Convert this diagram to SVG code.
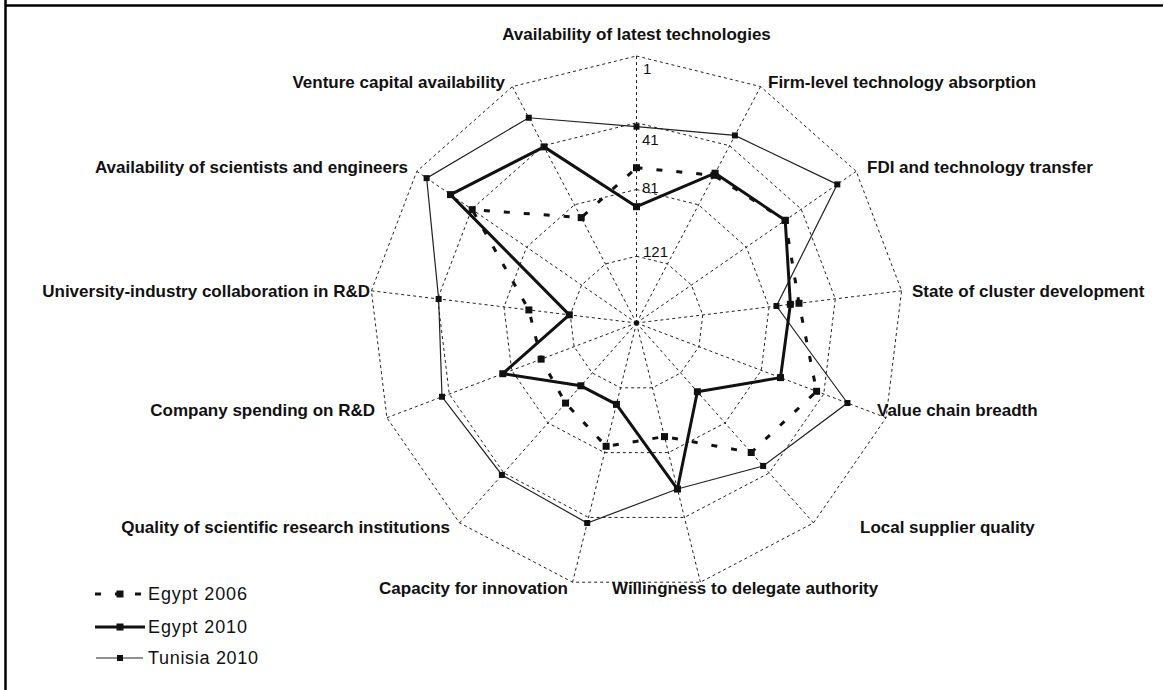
<svg xmlns="http://www.w3.org/2000/svg" width="1164" height="690" viewBox="0 0 1164 690">
<style>
.grid{fill:none;stroke:#222;stroke-width:1;stroke-dasharray:3 3}
.lbl{font-family:"Liberation Sans",Arial,sans-serif;font-weight:bold;font-size:17px;fill:#111}
.num{font-family:"Liberation Sans",Arial,sans-serif;font-size:15px;fill:#111}
.leg{font-family:"Liberation Sans",Arial,sans-serif;font-size:18px;fill:#111}
.e06{fill:none;stroke:#111;stroke-width:3;stroke-dasharray:6 14}
.e10{fill:none;stroke:#111;stroke-width:3;stroke-linejoin:round}
.tun{fill:none;stroke:#222;stroke-width:1.2}
</style>
<defs>
<rect id="mk" x="-3.5" y="-3.5" width="7" height="7" fill="#111"/>
<rect id="mks" x="-3" y="-3" width="6" height="6" fill="#111"/>
</defs>
<rect x="0" y="0" width="1164" height="690" fill="#fff"/>
<g id="frame" stroke="#000" stroke-width="2.5">
<line x1="5.5" y1="0" x2="5.5" y2="690"/>
<line x1="5" y1="5.5" x2="1163" y2="5.5"/>
</g>
<g id="grid">
<polygon class="grid" points="636.5,56 760.6,86.6 856.2,171.3 901.6,290.8 886.1,417.7 813.5,522.9 700.4,582.2 572.6,582.2 459.5,522.9 386.9,417.7 371.4,290.8 416.8,171.3 512.4,86.6"/>
<polygon class="grid" points="636.5,122.75 729.56,145.68 801.31,209.24 835.29,298.86 823.73,394.01 769.29,472.89 684.42,517.43 588.58,517.43 503.71,472.89 449.27,394.01 437.71,298.86 471.69,209.24 543.44,145.68"/>
<polygon class="grid" points="636.5,189.5 698.54,204.79 746.37,247.16 769.03,306.91 761.32,370.34 725.03,422.93 668.45,452.62 604.55,452.62 547.97,422.93 511.68,370.34 503.97,306.91 526.63,247.16 574.46,204.79"/>
<polygon class="grid" points="636.5,256.25 667.52,263.89 691.44,285.08 702.76,314.96 698.91,346.67 680.76,372.96 652.47,387.81 620.53,387.81 592.24,372.96 574.09,346.67 570.24,314.96 581.56,285.08 605.48,263.89"/>
<path class="grid" d="M636.5,323L636.5,56M636.5,323L760.6,86.6M636.5,323L856.2,171.3M636.5,323L901.6,290.8M636.5,323L886.1,417.7M636.5,323L813.5,522.9M636.5,323L700.4,582.2M636.5,323L572.6,582.2M636.5,323L459.5,522.9M636.5,323L386.9,417.7M636.5,323L371.4,290.8M636.5,323L416.8,171.3M636.5,323L512.4,86.6"/>
<circle cx="636.5" cy="323" r="2.5" fill="#111"/>
</g>
<g id="scale">
<text class="num" x="643" y="74">1</text>
<text class="num" x="642" y="145">41</text>
<text class="num" x="642" y="193">81</text>
<text class="num" x="643" y="257">121</text>
</g>
<g id="labels">
<text class="lbl" x="636.5" y="40" text-anchor="middle">Availability of latest technologies</text>
<text class="lbl" x="505" y="88" text-anchor="end">Venture capital availability</text>
<text class="lbl" x="768" y="88">Firm-level technology absorption</text>
<text class="lbl" x="408" y="173" text-anchor="end">Availability of scientists and engineers</text>
<text class="lbl" x="867" y="173">FDI and technology transfer</text>
<text class="lbl" x="370" y="297" text-anchor="end">University-industry collaboration in R&amp;D</text>
<text class="lbl" x="912" y="297">State of cluster development</text>
<text class="lbl" x="375" y="416" text-anchor="end">Company spending on R&amp;D</text>
<text class="lbl" x="877" y="416">Value chain breadth</text>
<text class="lbl" x="450" y="533" text-anchor="end">Quality of scientific research institutions</text>
<text class="lbl" x="860" y="533">Local supplier quality</text>
<text class="lbl" x="568" y="594" text-anchor="end">Capacity for innovation</text>
<text class="lbl" x="612" y="594">Willingness to delegate authority</text>
</g>
<g id="connectors">
<g id="series-tunisia-2010">
<polygon class="tun" points="636.5,126.7 734.92,135.45 837.31,184.38 776.47,306 847.44,403 763.15,465.96 677.42,489.03 587.2,523.01 501.89,474.95 442.02,396.76 438.65,298.98 426.63,178.13 528.78,117.74"/>
<use href="#mks" x="636.5" y="126.7"/><use href="#mks" x="734.92" y="135.45"/><use href="#mks" x="837.31" y="184.38"/><use href="#mks" x="776.47" y="306"/><use href="#mks" x="847.44" y="403"/><use href="#mks" x="763.15" y="465.96"/><use href="#mks" x="677.42" y="489.03"/><use href="#mks" x="587.2" y="523.01"/><use href="#mks" x="501.89" y="474.95"/><use href="#mks" x="442.02" y="396.76"/><use href="#mks" x="438.65" y="298.98"/><use href="#mks" x="426.63" y="178.13"/><use href="#mks" x="528.78" y="117.74"/>
</g>
<g id="series-egypt-2006">
<polygon class="e06" points="636.5,167.7 714.01,175.3 785.22,220.35 799,303.27 816.58,391.3 751.22,452.49 664.5,436.6 606.11,446.31 565.55,403.09 541.13,359.17 528.89,309.94 472.23,209.61 581.2,217.63"/>
<use href="#mk" x="636.5" y="167.7"/><use href="#mk" x="714.01" y="175.3"/><use href="#mk" x="785.22" y="220.35"/><use href="#mk" x="799" y="303.27"/><use href="#mk" x="816.58" y="391.3"/><use href="#mk" x="751.22" y="452.49"/><use href="#mk" x="664.5" y="436.6"/><use href="#mk" x="606.11" y="446.31"/><use href="#mk" x="565.55" y="403.09"/><use href="#mk" x="541.13" y="359.17"/><use href="#mk" x="528.89" y="309.94"/><use href="#mk" x="472.23" y="209.61"/><use href="#mk" x="581.2" y="217.63"/>
</g>
<g id="series-egypt-2010">
<polygon class="e10" points="636.5,206.7 715.13,173.17 785.22,220.35 790.37,304.32 780.49,377.61 697.37,391.71 677.42,489.03 616.45,404.36 580.86,385.8 502.79,373.71 569.29,314.84 450.5,194.61 544.07,146.87"/>
<use href="#mk" x="636.5" y="206.7"/><use href="#mk" x="715.13" y="173.17"/><use href="#mk" x="785.22" y="220.35"/><use href="#mk" x="790.37" y="304.32"/><use href="#mk" x="780.49" y="377.61"/><use href="#mk" x="697.37" y="391.71"/><use href="#mk" x="677.42" y="489.03"/><use href="#mk" x="616.45" y="404.36"/><use href="#mk" x="580.86" y="385.8"/><use href="#mk" x="502.79" y="373.71"/><use href="#mk" x="569.29" y="314.84"/><use href="#mk" x="450.5" y="194.61"/><use href="#mk" x="544.07" y="146.87"/>
</g>
</g>
<g id="legend">
<line class="e06" x1="95" y1="594" x2="145" y2="594" stroke-dasharray="5 17"/>
<use href="#mk" x="120" y="594"/>
<text class="leg" x="148" y="600" textLength="99">Egypt 2006</text>
<line class="e10" x1="95" y1="627" x2="145" y2="627"/>
<use href="#mk" x="120" y="627"/>
<text class="leg" x="148" y="633" textLength="99">Egypt 2010</text>
<line class="tun" x1="96" y1="658" x2="143" y2="658"/>
<use href="#mks" x="120" y="658"/>
<text class="leg" x="148" y="664" textLength="110">Tunisia 2010</text>
</g>
</svg>
